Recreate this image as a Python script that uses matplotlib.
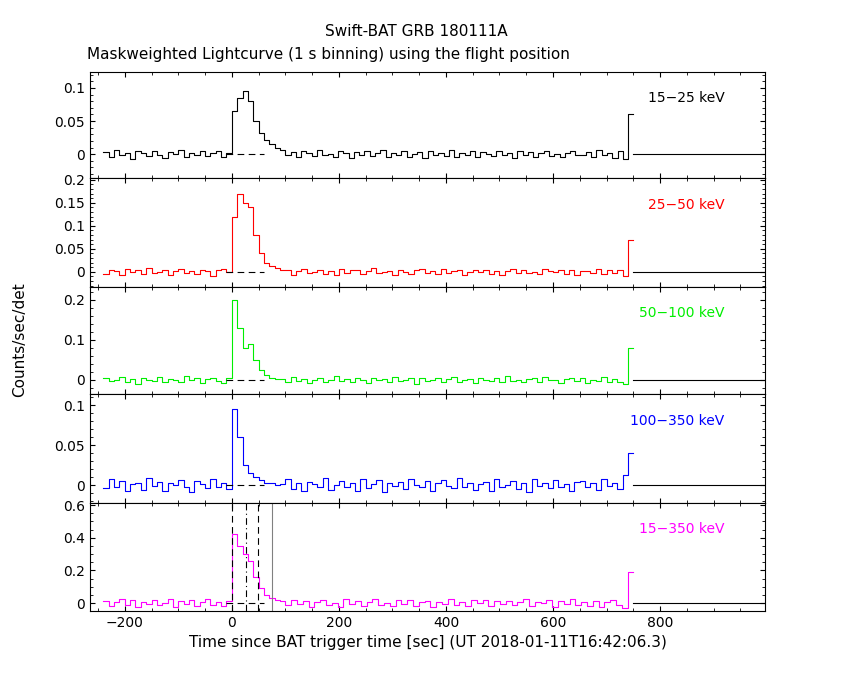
import numpy as np
import matplotlib.pyplot as plt

# 10 s bins from -240 s to +100 s, then post-burst bins up to the end of data (750 s)
t0 = -240
bin_w = 10
t_burst_end = 100
t_data_end = 750

rate_15_25 = [3, -4, 6, -2, 1, -7, 4, 2, -3, 5, -1, -6, 3, 0, 7, -4, 2, -2, 5, -3, 1, 4, -5, 2,
              65, 85, 95, 80, 50, 32, 22, 15, 10, 6,
              -2, 3, -5, 4, 1, -3, 6, -2, 0, -4, 5, 2, -6, 3, -1, 4, -3, 2, 7, -5, 1, -2, 4, -4, 0, 3,
              -6, 5, -1, 2, -3, 6, -4, 1, -2, 4, -5, 3, 0, -3, 5, -1, 2, -6, 4, -2, 3, -4, 1, 5, -3, 0,
              -5, 2, 4, -2, -1, 3, -4, 6, -2, 1, -6, 4, -8, 60]
rate_25_50 = [-5, 4, 2, -7, 6, -1, 3, -4, 8, -2, 0, 5, -6, 2, 7, -3, 1, -5, 4, 2, -8, 3, 6, -1,
              120, 170, 150, 140, 80, 40, 20, 12, 8, 5,
              4, -6, 2, 7, -3, 0, 5, -4, 1, -7, 6, -2, 3, 4, -5, 1, 8, -3, -1, 2, -6, 5, 0, -4, 3, 7,
              -2, 1, -5, 6, -3, 2, 4, -7, 0, 3, -1, 5, -4, 2, -6, 1, 7, -3, 4, -2, 0, -5, 6, 2, -1, 3,
              -4, 5, -7, 1, 2, -3, 6, -5, 4, -2, 3, -9, 70]
rate_50_100 = [6, -3, 1, 8, -5, 2, -9, 4, 0, -2, 7, -6, 3, 1, -4, 9, -1, 5, -7, 2, 4, -3, -8, 6,
               200, 130, 80, 90, 50, 25, 12, 6, 3, 2,
               -5, 8, -2, 3, -7, 1, 6, -4, 0, 9, -3, 2, -6, 4, 1, -8, 5, -1, 3, -5, 7, -2, 0, 4, -9, 6,
               -3, 1, 5, -6, 2, 8, -4, -1, 3, -7, 6, 0, -2, 4, -5, 9, -3, 1, -6, 2, 5, -4, 7, -1, 0, -8,
               3, 6, -2, 4, -7, 1, -3, 8, -5, 2, -4, -10, 80]
rate_100_350 = [-4, 7, -2, 5, -8, 1, 3, -6, 9, -1, 4, -7, 2, 0, 6, -3, -9, 5, 1, -4, 8, -2, 3, -5,
                95, 60, 25, 15, 10, 6, 3, 2, 0, 1,
                7, -5, 2, -8, 4, 1, -3, 9, -6, 0, 5, -2, 3, -7, 8, -4, 1, 6, -9, 2, -1, 4, -5, 7, 0, -3,
                5, -8, 2, 6, -1, -4, 9, -2, 3, -6, 1, 4, -7, 8, -3, 0, 5, -5, 2, -9, 7, -1, 3, -4, 6, -2,
                1, -8, 4, 5, -3, 2, -6, 7, -1, 3, -5, 12, 40]
rate_15_350 = [1.5, -2.0, 0.5, 2.5, -1.0, 1.8, -2.2, 0.8, -0.5, 2.0, -1.5, 0.3, 2.2, -2.5, 1.0, -0.8, 1.6, -1.8, 0.4, 2.4, -1.2, 0.9, -2.0, 1.3,
               42, 35, 30, 26, 16, 9, 5, 3, 2, 1,
               -1.5, 2.0, -0.5, 1.2, -2.2, 0.8, 1.8, -1.0, 0.3, -2.4, 2.2, -0.7, 1.1, -1.8, 0.5, 2.5, -1.3, 0.2, -2.0, 1.6,
               -0.9, 2.1, -1.6, 0.6, 1.4, -2.3, 0.9, -0.4, 2.3, -1.1, 0.7, -1.9, 1.7, -0.2, 2.0, -2.1, 1.0, -0.6, 1.5, -1.4,
               0.4, 2.2, -1.7, 0.8, -0.3, 1.9, -2.5, 1.2, -0.8, 2.4, -1.0, 0.5, -1.6, 1.3, -2.2, 0.9, 2.0, -1.2, -3.0, 19]

bands = [
    ("15\u221225 keV", rate_15_25, 0.001, "black", (-0.036, 0.124), [0, 0.05, 0.1], ["0", "0.05", "0.1"]),
    ("25\u221250 keV", rate_25_50, 0.001, "red", (-0.033, 0.204), [0, 0.05, 0.1, 0.15, 0.2], ["0", "0.05", "0.1", "0.15", "0.2"]),
    ("50\u2212100 keV", rate_50_100, 0.001, "#00ee00", (-0.035, 0.232), [0, 0.1, 0.2], ["0", "0.1", "0.2"]),
    ("100\u2212350 keV", rate_100_350, 0.001, "blue", (-0.0225, 0.114), [0, 0.05, 0.1], ["0", "0.05", "0.1"]),
    ("15\u2212350 keV", rate_15_350, 0.01, "magenta", (-0.049, 0.613), [0, 0.2, 0.4, 0.6], ["0", "0.2", "0.4", "0.6"]),
]

n_early = int((t_burst_end - t0) / bin_w)

edges_px = [72, 178, 287, 394, 503, 611]
fig = plt.figure(figsize=(8.5, 6.8), dpi=100)
axes = []
for i, (label, vals, scale, color, ylim, yt, ytl) in enumerate(bands):
    top, bot = edges_px[i], edges_px[i + 1]
    ax = fig.add_axes([90 / 850, 1 - bot / 680, 675 / 850, (bot - top) / 680])
    y = np.array(vals) * scale
    t_early = t0 + bin_w * np.arange(n_early)
    t_late = np.linspace(t_burst_end, t_data_end, len(y) - n_early + 1)
    t = np.concatenate([t_early, t_late])
    ax.step(t, np.append(y, y[-1]), where="post", color=color, lw=0.8)
    ax.plot([t_data_end, 1000], [0, 0], color="black", lw=0.8)
    ax.plot([-10, 60], [0, 0], color="black", lw=0.8, ls=(0, (6, 4)))
    ax.set_xlim(-265, 996)
    ax.set_ylim(*ylim)
    ax.set_yticks(yt)
    ax.set_yticklabels(ytl)
    ax.text(0.94, 0.72, label, transform=ax.transAxes, color=color, ha="right", fontsize=10)
    ax.tick_params(direction="in", top=True, right=True, labelsize=10)
    ax.minorticks_on()
    ax.tick_params(which="minor", direction="in", top=True, right=True)
    if i < 4:
        ax.set_xticklabels([])
    axes.append(ax)

ax5 = axes[-1]
ax5.axvline(0, color="black", lw=0.8, ls=(0, (6, 4)))
ax5.axvline(48, color="black", lw=0.8, ls=(0, (6, 4)))
ax5.axvline(27, color="black", lw=0.8, ls=(0, (6, 3, 1, 3)))
ax5.axvline(75, color="gray", lw=0.8)
ax5.set_xticks([-200, 0, 200, 400, 600, 800])
ax5.set_xlabel("Time since BAT trigger time [sec] (UT 2018-01-11T16:42:06.3)", fontsize=11)

fig.text(0.014, 0.5, "Counts/sec/det", rotation=90, va="center", fontsize=11)
fig.text(0.49, 1 - 32 / 680, "Swift-BAT GRB 180111A", ha="center", va="center", fontsize=11)
fig.text(87 / 850, 1 - 54 / 680, "Maskweighted Lightcurve (1 s binning) using the flight position",
         ha="left", va="center", fontsize=11)

fig.savefig("out.png", dpi=100)
